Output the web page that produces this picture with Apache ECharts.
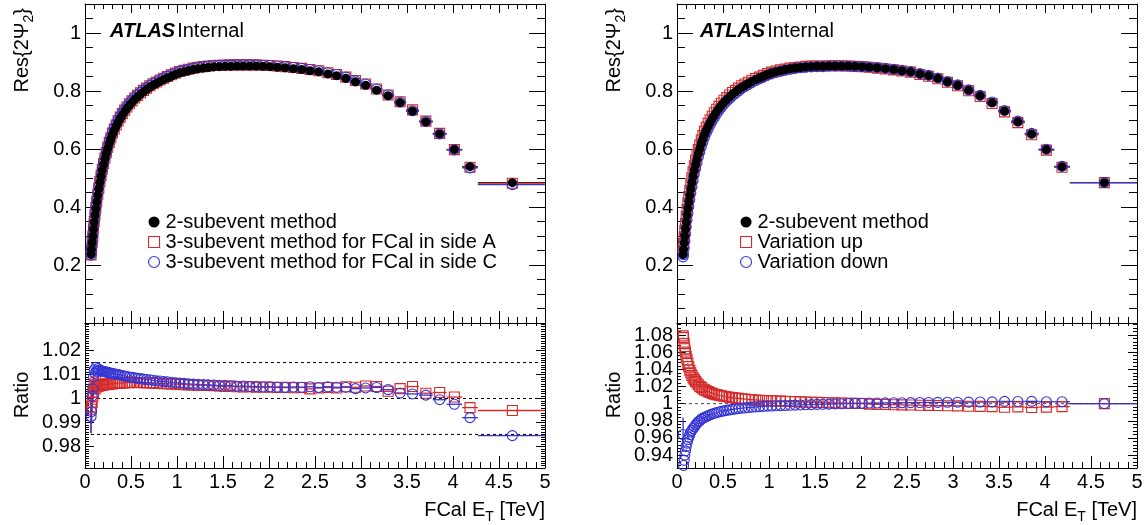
<!DOCTYPE html>
<html><head><meta charset="utf-8">
<script src="https://cdn.jsdelivr.net/npm/echarts@6/dist/echarts.min.js"></script>
<style>html,body{margin:0;padding:0;background:#fff}#c{width:1147px;height:525px}</style>
</head><body><div id="c"></div><script>
// ---------------- DATA ----------------
const xCenters = [0.066,0.071,0.078,0.085,0.092,0.100,0.109,0.118,0.128,0.139,
0.150,0.162,0.175,0.188,0.202,0.217,0.232,0.247,0.264,0.281,
0.299,0.318,0.339,0.360,0.383,0.406,0.431,0.456,0.483,0.511,
0.541,0.572,0.603,0.636,0.669,0.704,0.739,0.776,0.815,0.855,
0.896,0.939,0.984,1.029,1.076,1.125,1.176,1.229,1.284,1.341,
1.400,1.460,1.522,1.585,1.651,1.719,1.789,1.861,1.935,2.011,
2.090,2.175,2.265,2.355,2.445,2.540,2.640,2.735,2.835,2.940,
3.050,3.170,3.295,3.425,3.560,3.705,3.855,4.015,4.185,4.645];
const binEdges = [0.063,0.068,0.074,0.081,0.088,0.096,0.104,0.113,0.123,0.133,
0.144,0.156,0.168,0.181,0.195,0.209,0.224,0.239,0.255,0.272,
0.290,0.308,0.328,0.349,0.371,0.394,0.418,0.443,0.469,0.496,
0.525,0.556,0.587,0.619,0.652,0.686,0.721,0.757,0.795,0.834,
0.875,0.917,0.961,1.006,1.052,1.100,1.150,1.202,1.256,1.312,
1.370,1.429,1.490,1.553,1.617,1.684,1.753,1.824,1.897,1.972,
2.050,2.130,2.220,2.310,2.400,2.490,2.590,2.690,2.780,2.890,
2.990,3.110,3.230,3.360,3.490,3.630,3.780,3.930,4.100,4.270,5.000];
const res2sub = [0.236,0.254,0.277,0.300,0.324,0.348,0.372,0.395,0.418,0.441,
0.463,0.485,0.506,0.527,0.547,0.566,0.585,0.602,0.619,0.635,
0.651,0.665,0.679,0.692,0.705,0.717,0.729,0.740,0.751,0.761,
0.771,0.780,0.789,0.797,0.805,0.813,0.820,0.826,0.833,0.839,
0.845,0.851,0.857,0.862,0.866,0.870,0.874,0.877,0.879,0.881,
0.883,0.884,0.885,0.885,0.886,0.886,0.886,0.886,0.885,0.884,
0.882,0.880,0.877,0.874,0.870,0.866,0.859,0.853,0.844,0.832,
0.820,0.803,0.784,0.760,0.731,0.694,0.652,0.598,0.539,0.484];
const res3subA = [0.235,0.253,0.277,0.300,0.325,0.350,0.373,0.398,0.420,0.444,
0.465,0.488,0.509,0.530,0.550,0.569,0.588,0.606,0.623,0.639,
0.655,0.669,0.683,0.697,0.710,0.722,0.734,0.745,0.756,0.766,
0.776,0.785,0.794,0.802,0.810,0.818,0.825,0.831,0.838,0.844,
0.850,0.856,0.862,0.867,0.871,0.875,0.879,0.882,0.884,0.886,
0.888,0.889,0.889,0.890,0.890,0.890,0.890,0.890,0.889,0.888,
0.886,0.884,0.881,0.878,0.874,0.870,0.863,0.857,0.848,0.836,
0.824,0.807,0.786,0.763,0.735,0.696,0.654,0.598,0.537,0.482];
const res3subC = [0.234,0.253,0.277,0.301,0.327,0.352,0.376,0.400,0.423,0.447,
0.469,0.491,0.512,0.533,0.553,0.572,0.591,0.609,0.626,0.642,
0.658,0.672,0.686,0.699,0.712,0.724,0.736,0.747,0.758,0.768,
0.778,0.787,0.796,0.803,0.811,0.819,0.826,0.832,0.839,0.845,
0.851,0.857,0.863,0.868,0.871,0.875,0.879,0.882,0.884,0.886,
0.888,0.889,0.890,0.890,0.891,0.891,0.890,0.890,0.889,0.888,
0.886,0.884,0.881,0.878,0.874,0.870,0.863,0.857,0.848,0.835,
0.824,0.807,0.787,0.762,0.732,0.695,0.652,0.597,0.535,0.477];
const resVarUp = [0.255,0.274,0.296,0.319,0.343,0.367,0.391,0.414,0.436,0.458,
0.480,0.501,0.521,0.542,0.561,0.580,0.598,0.614,0.631,0.646,
0.661,0.675,0.689,0.701,0.713,0.725,0.737,0.747,0.758,0.768,
0.777,0.786,0.795,0.802,0.810,0.818,0.824,0.830,0.837,0.843,
0.848,0.854,0.860,0.865,0.869,0.873,0.876,0.879,0.881,0.883,
0.885,0.886,0.886,0.886,0.887,0.887,0.887,0.886,0.885,0.884,
0.882,0.879,0.876,0.873,0.869,0.865,0.857,0.851,0.842,0.830,
0.818,0.801,0.781,0.757,0.728,0.691,0.649,0.596,0.537,0.484];
const resVarDown = [0.228,0.236,0.259,0.282,0.306,0.331,0.355,0.378,0.402,0.425,
0.448,0.470,0.491,0.513,0.533,0.553,0.573,0.590,0.608,0.624,
0.641,0.655,0.669,0.683,0.697,0.709,0.721,0.733,0.744,0.755,
0.765,0.774,0.784,0.792,0.800,0.809,0.816,0.822,0.830,0.836,
0.842,0.848,0.855,0.860,0.864,0.868,0.872,0.875,0.878,0.880,
0.882,0.883,0.884,0.884,0.886,0.886,0.886,0.886,0.885,0.884,
0.883,0.881,0.878,0.875,0.871,0.867,0.860,0.854,0.845,0.833,
0.821,0.804,0.785,0.762,0.733,0.696,0.654,0.599,0.540,0.484];
const ratioA = [0.9955,0.9965,0.9985,1.0010,1.0025,1.0055,1.0040,1.0070,1.0048,1.0060,
1.0051,1.0055,1.0054,1.0057,1.0056,1.0059,1.0058,1.0061,1.0060,1.0062,
1.0061,1.0064,1.0063,1.0065,1.0064,1.0066,1.0065,1.0067,1.0066,1.0068,
1.0067,1.0066,1.0067,1.0066,1.0066,1.0065,1.0065,1.0064,1.0063,1.0062,
1.0062,1.0061,1.0060,1.0059,1.0058,1.0057,1.0056,1.0054,1.0055,1.0054,
1.0053,1.0052,1.0050,1.0052,1.0049,1.0048,1.0049,1.0047,1.0048,1.0047,
1.0046,1.0047,1.0045,1.0046,1.0040,1.0044,1.0046,1.0044,1.0049,1.0047,
1.0052,1.0050,1.0030,1.0041,1.0050,1.0022,1.0025,1.0006,0.9962,0.9950];
const ratioC = [0.9925,0.9945,1.0010,1.0040,1.0090,1.0120,1.0105,1.0130,1.0115,1.0125,
1.0119,1.0118,1.0116,1.0114,1.0113,1.0112,1.0110,1.0109,1.0107,1.0106,
1.0104,1.0103,1.0101,1.0100,1.0098,1.0096,1.0094,1.0092,1.0090,1.0088,
1.0086,1.0084,1.0083,1.0081,1.0079,1.0078,1.0076,1.0074,1.0073,1.0071,
1.0070,1.0068,1.0066,1.0064,1.0063,1.0061,1.0060,1.0059,1.0058,1.0057,
1.0056,1.0054,1.0055,1.0053,1.0051,1.0052,1.0050,1.0050,1.0048,1.0049,
1.0048,1.0046,1.0048,1.0047,1.0049,1.0046,1.0049,1.0047,1.0047,1.0041,
1.0044,1.0046,1.0037,1.0023,1.0019,1.0014,0.9995,0.9976,0.9920,0.9845];
const errRatioA = [0.010,0.006,0.004,0.003,0.002,0,0,0,0,0,0,0,0,0,0,0,0,0,0,0,0,0,0,0,0,0,0,0,0,0,0,0,0,0,0,0,0,0,0,0,0,0,0,0,0,0,0,0,0,0,0,0,0,0,0,0,0,0,0,0,0,0,0,0,0,0,0,0,0,0,0,0,0,0,0,0,0,0,0,0];
const errRatioC = [0.007,0.005,0.004,0.003,0.002,0,0,0,0,0,0,0,0,0,0,0,0,0,0,0,0,0,0,0,0,0,0,0,0,0,0,0,0,0,0,0,0,0,0,0,0,0,0,0,0,0,0,0,0,0,0,0,0,0,0,0,0,0,0,0,0,0,0,0,0,0,0,0,0,0,0,0,0,0,0,0,0,0,0,0];
const ratioUp = [1.079,1.077,1.070,1.064,1.060,1.055,1.051,1.047,1.043,1.039,
1.036,1.033,1.030,1.028,1.026,1.024,1.022,1.020,1.019,1.017,
1.016,1.015,1.014,1.013,1.012,1.011,1.0105,1.0098,1.0092,1.0086,
1.0080,1.0075,1.0070,1.0065,1.0061,1.0057,1.0053,1.0049,1.0046,1.0043,
1.0040,1.0037,1.0035,1.0033,1.0031,1.0029,1.0027,1.0025,1.0023,1.0021,
1.0019,1.0017,1.0015,1.0013,1.0011,1.0009,1.0007,1.0005,1.0003,1.0001,
0.9995,0.9992,0.9990,0.9988,0.9986,0.9984,0.9982,0.9980,0.9978,0.9976,
0.9974,0.9970,0.9968,0.9965,0.9958,0.9962,0.9955,0.9960,0.9965,1.0000];
const ratioDown = [0.964,0.928,0.934,0.940,0.945,0.950,0.954,0.958,0.961,0.964,
0.967,0.969,0.971,0.973,0.975,0.977,0.979,0.980,0.982,0.983,
0.984,0.985,0.986,0.987,0.988,0.9888,0.9896,0.9903,0.9910,0.9916,
0.9922,0.9928,0.9933,0.9938,0.9943,0.9947,0.9951,0.9955,0.9959,0.9962,
0.9965,0.9968,0.9971,0.9973,0.9975,0.9977,0.9979,0.9981,0.9983,0.9985,
0.9987,0.9989,0.9991,0.9993,0.9995,0.9997,0.9999,1.0001,1.0003,1.0005,
1.0007,1.0008,1.0009,1.0010,1.0011,1.0012,1.0013,1.0014,1.0015,1.0016,
1.0017,1.0018,1.0019,1.0021,1.0026,1.0025,1.0027,1.0022,1.0023,1.0000];
const errRatioDown = [0.020,0,0,0,0,0,0,0,0,0,0,0,0,0,0,0,0,0,0,0,0,0,0,0,0,0,0,0,0,0,0,0,0,0,0,0,0,0,0,0,0,0,0,0,0,0,0,0,0,0,0,0,0,0,0,0,0,0,0,0,0,0,0,0,0,0,0,0,0,0,0,0,0,0,0,0,0,0,0,0];

const xTickLabels = [0,0.5,1,1.5,2,2.5,3,3.5,4,4.5,5];
const yTopTickLabels = [0.2,0.4,0.6,0.8,1];
const yRatioLeftTickLabels = [0.98,0.99,1,1.01,1.02];
const yRatioRightTickLabels = [0.94,0.96,0.98,1,1.02,1.04,1.06,1.08];
const refLinesLeft = [0.985,1,1.015];
const refLinesRight = [1];

const legendLeftNames = ['2-subevent method','3-subevent method for FCal in side A','3-subevent method for FCal in side C'];
const legendRightNames = ['2-subevent method','Variation up','Variation down'];

// ---------------- STYLE / LAYOUT ----------------
const FONT = '"Liberation Sans", Arial, Helvetica, sans-serif';
const RED = '#d42a2a', BLUE = '#3434d6', BLACK = '#000';
const FS = 20;

function steps(a, b, s) { const n = Math.round((b - a) / s); const o = []; for (let i = 0; i <= n; i++) o.push(+(a + i * s).toFixed(6)); return o; }
function fmt(v) { return String(+(+v).toFixed(4)); }

const grids = [
  {left: 85, top: 4, width: 460, height: 319},
  {left: 85, top: 323, width: 460, height: 145},
  {left: 677, top: 4, width: 460, height: 319},
  {left: 677, top: 323, width: 460, height: 145}
];
const xAxes = [], yAxes = [];
function axisBase(g, pos, mn, mx, line) {
  return {type: 'value', gridIndex: g, position: pos, min: mn, max: mx, silent: true,
    axisLine: {show: line, onZero: false, lineStyle: {color: BLACK, width: 1}},
    splitLine: {show: false}, axisLabel: {show: false}};
}
function tick(vals, len) { return {show: true, inside: true, length: len, customValues: vals, lineStyle: {color: BLACK, width: 1}}; }
function label(vals) {
  return {show: true, customValues: vals, margin: 4, fontSize: FS, fontFamily: FONT, color: BLACK, formatter: fmt,
    showMinLabel: true, showMaxLabel: true, hideOverlap: false};
}
function frame(g, e, o) {
  const xi = xAxes.length, yi = yAxes.length;
  const xb = axisBase(g, 'bottom', e.x0, e.x1, true); xb.axisTick = tick(o.xMajor, o.xbMaj);
  if (o.xLabels) xb.axisLabel = label(o.xLabels);
  xAxes.push(xb);
  const xb2 = axisBase(g, 'bottom', e.x0, e.x1, false); xb2.axisTick = tick(o.xMinor, o.xbMin); xAxes.push(xb2);
  const xt = axisBase(g, 'top', e.x0, e.x1, true); xt.axisTick = tick(o.xMajor, o.xtMaj); xAxes.push(xt);
  const xt2 = axisBase(g, 'top', e.x0, e.x1, false); xt2.axisTick = tick(o.xMinor, o.xtMin); xAxes.push(xt2);
  // labels split over two coincident axes so that tightly packed labels are never auto-hidden
  const labsA = o.yLabels.filter((v, i) => i % 2 === 0), labsB = o.yLabels.filter((v, i) => i % 2 === 1);
  const yl = axisBase(g, 'left', e.y0, e.y1, true); yl.axisTick = tick(o.yMajor, o.yMaj);
  yl.axisLabel = label(labsA);
  yAxes.push(yl);
  const yl2 = axisBase(g, 'left', e.y0, e.y1, false); yl2.axisTick = tick(o.yMinor, o.yMin);
  yl2.axisLabel = label(labsB);
  yAxes.push(yl2);
  const yr = axisBase(g, 'right', e.y0, e.y1, true); yr.axisTick = tick(o.yMajor, o.yMaj); yAxes.push(yr);
  const yr2 = axisBase(g, 'right', e.y0, e.y1, false); yr2.axisTick = tick(o.yMinor, o.yMin); yAxes.push(yr2);
  return {x: xi, y: yi};
}
const xMajor = steps(0, 5, 0.5), xMinor = steps(0, 5, 0.1);
const topOpts = {xMajor, xMinor, xLabels: null, xbMaj: 12, xbMin: 6, xtMaj: 9, xtMin: 5,
  yMajor: steps(0, 1, 0.2), yMinor: steps(0, 1.1, 0.05), yLabels: yTopTickLabels, yMaj: 16, yMin: 8};
const TL = frame(0, {x0: 0, x1: 5, y0: 0, y1: 1.1}, topOpts);
const BL = frame(1, {x0: 0, x1: 5, y0: 0.971, y1: 1.0315}, {xMajor, xMinor, xLabels: xTickLabels, xbMaj: 12, xbMin: 6, xtMaj: 6, xtMin: 3,
  yMajor: yRatioLeftTickLabels, yMinor: steps(0.972, 1.031, 0.001), yLabels: yRatioLeftTickLabels, yMaj: 9, yMin: 4});
const TR = frame(2, {x0: 0, x1: 5, y0: 0, y1: 1.1}, topOpts);
const BR = frame(3, {x0: 0, x1: 5, y0: 0.925, y1: 1.094}, {xMajor, xMinor, xLabels: xTickLabels, xbMaj: 12, xbMin: 6, xtMaj: 6, xtMin: 3,
  yMajor: yRatioRightTickLabels, yMinor: steps(0.928, 1.092, 0.004), yLabels: yRatioRightTickLabels, yMaj: 9, yMin: 4});

function hbars(ax, ys, color) {
  return {type: 'custom', xAxisIndex: ax.x, yAxisIndex: ax.y, silent: true, z: 2,
    data: ys.map((y, i) => [binEdges[i], binEdges[i + 1], y]),
    renderItem: (p, api) => {
      const a = api.coord([api.value(0), api.value(2)]), b = api.coord([api.value(1), api.value(2)]);
      return {type: 'line', shape: {x1: a[0], y1: a[1], x2: b[0], y2: b[1]}, style: {stroke: color, lineWidth: 1.3}};
    }};
}
function vbars(ax, ys, errs, color) {
  const d = [];
  ys.forEach((y, i) => { if (errs[i] > 0) d.push([xCenters[i], y - errs[i], y + errs[i]]); });
  return {type: 'custom', xAxisIndex: ax.x, yAxisIndex: ax.y, silent: true, z: 2, data: d,
    renderItem: (p, api) => {
      const a = api.coord([api.value(0), api.value(1)]), b = api.coord([api.value(0), api.value(2)]);
      return {type: 'line', shape: {x1: a[0], y1: a[1], x2: b[0], y2: b[1]}, style: {stroke: color, lineWidth: 1.3}};
    }};
}
function pts(ax, name, ys, kind) {
  const s = {type: 'scatter', name, xAxisIndex: ax.x, yAxisIndex: ax.y, silent: true, z: 3,
    data: xCenters.map((x, i) => [x, ys[i]])};
  if (kind === 'dot') { s.symbol = 'circle'; s.symbolSize = 9; s.itemStyle = {color: BLACK, opacity: 1}; s.z = 5; }
  if (kind === 'sq') { s.symbol = 'rect'; s.symbolSize = 10; s.itemStyle = {color: 'rgba(0,0,0,0)', borderColor: RED, borderWidth: 1.1, opacity: 1}; }
  if (kind === 'oc') { s.symbol = 'circle'; s.symbolSize = 10; s.itemStyle = {color: 'rgba(0,0,0,0)', borderColor: BLUE, borderWidth: 1.1, opacity: 1}; s.z = 4; }
  return s;
}
function refs(ax, vals, color) {
  return {type: 'custom', xAxisIndex: ax.x, yAxisIndex: ax.y, silent: true, z: 1,
    data: vals.map(v => [0, v]),
    renderItem: (p, api) => {
      const cs = p.coordSys; const y = api.coord([0, api.value(1)])[1];
      return {type: 'line', shape: {x1: cs.x, y1: y, x2: cs.x + cs.width, y2: y},
        style: {stroke: color, lineWidth: 1, lineDash: [3, 3]}};
    }};
}

const series = [
  hbars(TL, res2sub, BLACK), hbars(TL, res3subA, RED), hbars(TL, res3subC, BLUE),
  pts(TL, legendLeftNames[1], res3subA, 'sq'), pts(TL, legendLeftNames[2], res3subC, 'oc'), pts(TL, legendLeftNames[0], res2sub, 'dot'),
  refs(BL, refLinesLeft, BLACK),
  hbars(BL, ratioA, RED), hbars(BL, ratioC, BLUE), vbars(BL, ratioA, errRatioA, RED), vbars(BL, ratioC, errRatioC, BLUE),
  pts(BL, legendLeftNames[1], ratioA, 'sq'), pts(BL, legendLeftNames[2], ratioC, 'oc'),
  hbars(TR, res2sub, BLACK), hbars(TR, resVarUp, RED), hbars(TR, resVarDown, BLUE),
  pts(TR, legendRightNames[1], resVarUp, 'sq'), pts(TR, legendRightNames[2], resVarDown, 'oc'), pts(TR, legendRightNames[0], res2sub, 'dot'),
  refs(BR, refLinesRight, '#444'),
  hbars(BR, ratioUp, RED), hbars(BR, ratioDown, BLUE), vbars(BR, ratioDown, errRatioDown, BLUE),
  pts(BR, legendRightNames[1], ratioUp, 'sq'), pts(BR, legendRightNames[2], ratioDown, 'oc')
];

function legendData(names) {
  return [
    {name: names[0], icon: 'circle', itemStyle: {color: BLACK, borderWidth: 0, opacity: 1}},
    {name: names[1], icon: 'rect', itemStyle: {color: 'rgba(0,0,0,0)', borderColor: RED, borderWidth: 1.1, opacity: 1}},
    {name: names[2], icon: 'circle', itemStyle: {color: 'rgba(0,0,0,0)', borderColor: BLUE, borderWidth: 1.1, opacity: 1}}
  ];
}
const legendBase = {orient: 'vertical', itemWidth: 11, itemHeight: 11, itemGap: 0, selectedMode: false, padding: 0,
  textStyle: {fontSize: FS, fontFamily: FONT, color: BLACK, padding: [0, 0, 0, 1]}};
const legend = [
  Object.assign({}, legendBase, {left: 148, top: 212, data: legendData(legendLeftNames)}),
  Object.assign({}, legendBase, {left: 740, top: 212, data: legendData(legendRightNames)})
];

function atlas(x) {
  return {type: 'text', x: x, y: 31, silent: true, style: {text: '{a|ATLAS}{b|Internal}', verticalAlign: 'middle', align: 'left',
    rich: {a: {fontFamily: FONT, fontSize: FS, fontWeight: 'bold', fontStyle: 'italic', fill: BLACK},
           b: {fontFamily: FONT, fontSize: FS, fill: BLACK, padding: [0, 0, 0, 2]}}}};
}
const subRich = {s: {fontFamily: FONT, fontSize: 14, fill: BLACK, verticalAlign: 'bottom', lineHeight: 28}};
function ytitle(x, y, text, align) {
  return {type: 'text', x: x, y: y, rotation: Math.PI / 2, silent: true,
    style: {text: text, fontSize: FS, fontFamily: FONT, fill: BLACK, align: align, verticalAlign: 'middle', rich: subRich}};
}
function xtitle(x) {
  return {type: 'text', x: x, y: 510, silent: true,
    style: {text: 'FCal E{s|T} [TeV]', fontSize: FS, fontFamily: FONT, fill: BLACK, align: 'right', verticalAlign: 'middle', rich: subRich}};
}

const chart = echarts.init(document.getElementById('c'), null, {renderer: 'canvas'});
chart.setOption({
  animation: false, backgroundColor: '#fff',
  textStyle: {fontFamily: FONT},
  grid: grids, xAxis: xAxes, yAxis: yAxes, series, legend,
  graphic: [atlas(110), atlas(700),
    ytitle(22, 8, 'Res{2Ψ{s|2}}', 'right'), ytitle(614, 8, 'Res{2Ψ{s|2}}', 'right'),
    ytitle(22, 395, 'Ratio', 'center'), ytitle(614, 395, 'Ratio', 'center'),
    xtitle(545), xtitle(1137)]
});
</script></body></html>
